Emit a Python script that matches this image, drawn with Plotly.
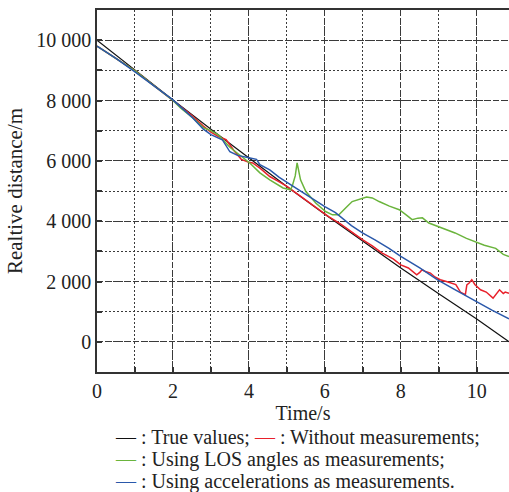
import plotly.graph_objects as go

# ---- data ----
t_true = [0, 1, 2, 3, 4, 5, 6, 7, 8, 9, 10, 10.85]
v_true = [10000, 9000, 8020, 7050, 6090, 5150, 4230, 3330, 2450, 1590, 760, 0]

t_red = [0, 1, 2, 2.5, 2.8, 3.0, 3.2, 3.4, 3.6, 3.8, 4.0, 4.1, 4.3, 4.55, 4.8, 5.0, 5.3, 5.6,
         5.9, 6.1, 6.4, 6.6, 6.9, 7.0, 7.25, 7.5, 7.8, 8.0, 8.2, 8.42, 8.5, 8.56, 8.65, 8.78,
         8.9, 9.04, 9.2, 9.3, 9.45, 9.57, 9.65, 9.7, 9.74, 9.8, 9.87, 9.95, 10.1, 10.25, 10.43,
         10.5, 10.55, 10.6, 10.7, 10.75, 10.85]
v_red = [9800, 8980, 8000, 7500, 7150, 6950, 6800, 6700, 6350, 6050, 5950, 5930, 5750, 5480,
         5300, 5150, 4880, 4600, 4330, 4150, 3920, 3740, 3450, 3383, 3180, 2950, 2750, 2550,
         2450, 2220, 2300, 2390, 2330, 2280, 2150, 2060, 2000, 1970, 1900, 1650, 1580, 1560,
         1890, 1950, 2060, 1900, 1725, 1650, 1450, 1550, 1650, 1725, 1600, 1650, 1610]

t_green = [0, 1, 2, 2.2, 2.5, 2.8, 3.0, 3.2, 3.5, 3.7, 3.9, 4.03, 4.29, 4.55, 4.9, 5.1, 5.15,
           5.22, 5.27, 5.32, 5.36, 5.5, 5.76, 6.02, 6.2, 6.37, 6.45, 6.5, 6.6, 6.72, 6.85,
           6.99, 7.1, 7.25, 7.43, 7.7, 7.96, 8.15, 8.3, 8.45, 8.57, 8.74, 9.0, 9.2, 9.43, 9.73,
           9.96, 10.2, 10.5, 10.7, 10.85]
v_green = [9800, 8980, 8000, 7750, 7450, 7100, 7000, 6850, 6450, 6250, 6050, 5920, 5600, 5370,
           5100, 5040, 5200, 5500, 5930, 5600, 5370, 4980, 4600, 4320, 4210, 4210, 4300, 4380,
           4500, 4650, 4700, 4770, 4800, 4770, 4650, 4500, 4380, 4200, 4050, 4100, 4110, 3940,
           3820, 3720, 3610, 3430, 3320, 3200, 3100, 2900, 2830]

t_blue = [0, 0.5, 1, 1.5, 2, 2.5, 2.8, 3.0, 3.3, 3.5, 3.7, 4.0, 4.2, 4.29, 4.55, 4.8, 4.97,
          5.3, 5.58, 5.76, 6.0, 6.28, 6.5, 6.7, 6.99, 7.32, 7.69, 8.0, 8.5, 8.97, 9.4, 9.82,
          10.0, 10.4, 10.85]
v_blue = [9800, 9400, 8950, 8500, 8020, 7450, 7050, 6870, 6700, 6300, 6180, 6100, 6050, 5870,
          5700, 5450, 5310, 5050, 4810, 4650, 4480, 4280, 4050, 3850, 3610, 3383, 3100, 2830,
          2450, 2056, 1750, 1448, 1330, 1050, 763]

y_tickvals = [0, 2000, 4000, 6000, 8000, 10000]
y_ticktext = ["0", "2 000", "4 000", "6 000", "8 000", "10 000"]
x_tickvals = [0, 2, 4, 6, 8, 10]

x_range = [0, 10.85]
y_range = [-1000, 11000]

FONT = "Liberation Serif"
TXT = "#222222"
GRID = "#3a3a3a"

fig = go.Figure()
fig.add_trace(go.Scatter(x=t_true, y=v_true, mode="lines", line=dict(color="#111111", width=1.2),
                         name="True values"))
fig.add_trace(go.Scatter(x=t_red, y=v_red, mode="lines", line=dict(color="#e8202a", width=1.5),
                         name="Without measurements"))
fig.add_trace(go.Scatter(x=t_green, y=v_green, mode="lines", line=dict(color="#6ab43c", width=1.5),
                         name="Using LOS angles as measurements"))
fig.add_trace(go.Scatter(x=t_blue, y=v_blue, mode="lines", line=dict(color="#2a58aa", width=1.5),
                         name="Using accelerations as measurements"))

fig.update_layout(
    template="none",
    width=509, height=492,
    margin=dict(l=97, r=0, t=10, b=120),
    paper_bgcolor="white", plot_bgcolor="white",
    showlegend=False,
    font=dict(family=FONT, size=20, color=TXT),
    xaxis=dict(
        range=x_range, tickmode="array", tickvals=x_tickvals, mirror=True,
        showline=True, linecolor="#333333", linewidth=1.5,
        showgrid=True, gridcolor=GRID, gridwidth=1, griddash="6px,3px",
        ticks="inside", ticklen=5, tickcolor="#333333", tickwidth=1.5,
        zeroline=False, tickfont=dict(family=FONT, size=20, color=TXT),
        minor=dict(dtick=1, tick0=0, showgrid=True, gridcolor=GRID, gridwidth=1,
                   griddash="2px,2px", ticks="inside", ticklen=5, tickcolor="#333333"),
        title=dict(text="Time/s", font=dict(family=FONT, size=20, color=TXT), standoff=2),
    ),
    yaxis=dict(
        range=y_range, tickmode="array", tickvals=y_tickvals, ticktext=y_ticktext,
        showline=True, linecolor="#333333", linewidth=1.5,
        showgrid=True, gridcolor=GRID, gridwidth=1, griddash="6px,3px",
        ticks="inside", ticklen=5, tickcolor="#333333", tickwidth=1.5,
        zeroline=False, tickfont=dict(family=FONT, size=20, color=TXT),
        minor=dict(dtick=1000, tick0=0, showgrid=True, gridcolor=GRID, gridwidth=1,
                   griddash="2px,2px", ticks="inside", ticklen=5, tickcolor="#333333"),
        title=dict(text="Realtive distance/m", font=dict(family=FONT, size=21, color=TXT),
                   standoff=8),
    ),
)

legend_lines = [
    ('<span style="color:#111111">—</span> : True values; '
     '<span style="color:#e8202a">—</span> : Without measurements;', 437),
    ('<span style="color:#6ab43c">—</span> : Using LOS angles as measurements;', 459),
    ('<span style="color:#2a58aa">—</span> : Using accelerations as measurements.', 481),
]
for txt, ypix in legend_lines:
    fig.add_annotation(
        text=txt, xref="paper", yref="paper",
        x=(113 - 97) / 412, y=(372 - ypix) / 362,
        xanchor="left", yanchor="middle", showarrow=False,
        font=dict(family=FONT, size=20, color=TXT),
    )

fig.write_html("out.html")
